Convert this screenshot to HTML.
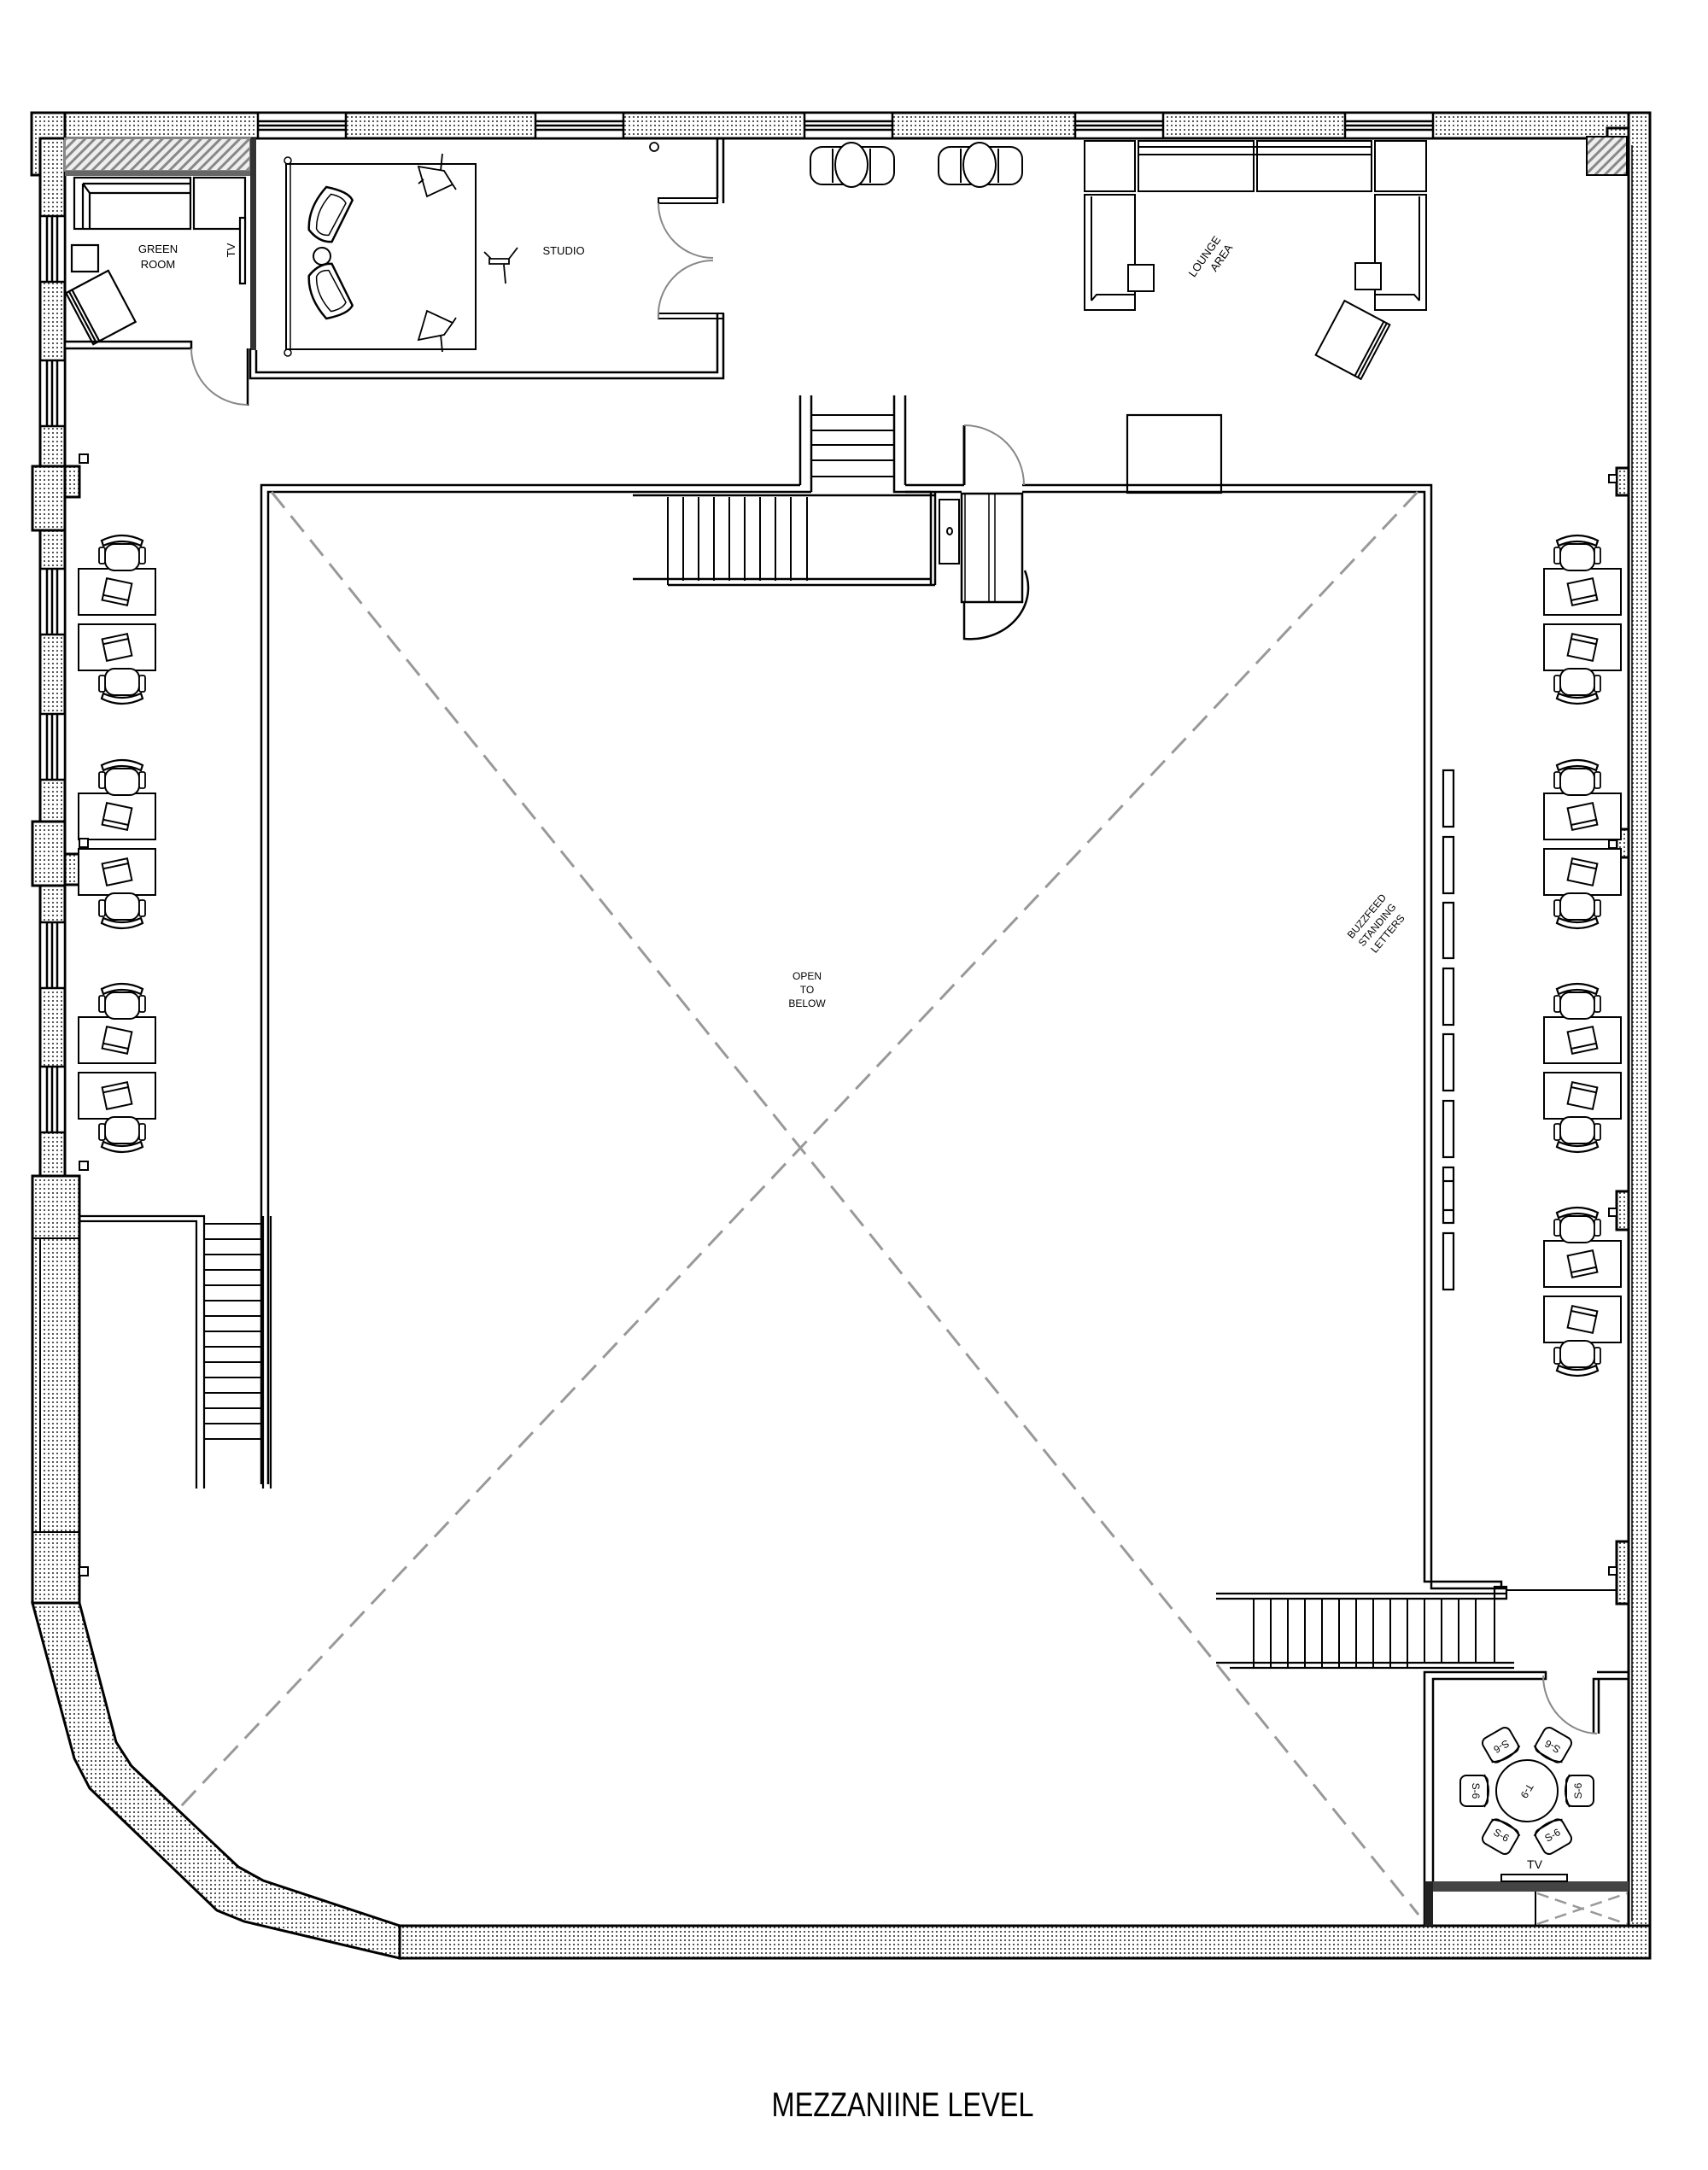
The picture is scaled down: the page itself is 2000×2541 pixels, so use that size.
<!DOCTYPE html>
<html><head><meta charset="utf-8"><style>
html,body{margin:0;padding:0;background:#fff;}
svg{display:block;}
text{font-family:"Liberation Sans Narrow","Liberation Sans",sans-serif;fill:#000;}
</style></head><body>
<svg width="2000" height="2541" viewBox="0 0 2000 2541" xmlns="http://www.w3.org/2000/svg">
<defs>
<pattern id="dots" width="5" height="5" patternUnits="userSpaceOnUse">
<rect width="5" height="5" fill="#fff"/><rect x="1" y="1" width="2" height="2" fill="#555"/></pattern>
<pattern id="hatch" width="8" height="8" patternUnits="userSpaceOnUse" patternTransform="rotate(45)">
<rect width="8" height="8" fill="#eee"/><rect width="3" height="8" fill="#888"/></pattern>
<symbol id="chair" viewBox="-30 -30 60 60" width="60" height="60" overflow="visible">
<path d="M-24,-17 Q0,-29 24,-17 L22,-11 Q0,-21 -22,-11 Z" fill="#fff" stroke="#000" stroke-width="2.2"/>
<rect x="-20" y="-13" width="40" height="31" rx="11" fill="#fff" stroke="#000" stroke-width="2"/>
<rect x="-27" y="-9" width="7" height="19" rx="2" fill="#fff" stroke="#000" stroke-width="1.8"/>
<rect x="20" y="-9" width="7" height="19" rx="2" fill="#fff" stroke="#000" stroke-width="1.8"/>
</symbol>
<g id="cluster" fill="none" stroke="#000" stroke-width="2">
<rect x="0" y="0" width="90" height="54" fill="#fff"/>
<rect x="0" y="65" width="90" height="54" fill="#fff"/>
<g transform="translate(45,27) rotate(12)"><rect x="-15" y="-13" width="30" height="26"/><line x1="-15" y1="7" x2="15" y2="7"/></g>
<g transform="translate(45,92) rotate(-12)"><rect x="-15" y="-13" width="30" height="26"/><line x1="-15" y1="-7" x2="15" y2="-7"/></g>
<use href="#chair" x="21" y="-46"/>
<g transform="translate(51,135) scale(1,-1)"><use href="#chair" x="-30" y="-30"/></g>
</g>
<g id="dc"><g transform="translate(0,-60)"><rect x="-18" y="-18" width="36" height="32" rx="7" fill="#fff" stroke="#000" stroke-width="2"/><path d="M-19,10 Q0,20 19,10" fill="none" stroke="#000" stroke-width="2"/><text x="0" y="4" font-size="12" text-anchor="middle" transform="rotate(180)">S-6</text></g></g>
</defs>

<!-- ===== WALLS ===== -->
<g stroke="#000" stroke-width="3" fill="url(#dots)">
<rect x="37" y="132" width="1895" height="30"/>
<rect x="1907" y="132" width="25" height="2161"/>
<rect x="468" y="2255" width="1464" height="38"/>
<rect x="37" y="132" width="39" height="73"/>
<rect x="47" y="162" width="29" height="1215"/>
<rect x="38" y="546" width="38" height="75"/><rect x="76" y="546" width="17" height="36"/>
<rect x="38" y="962" width="38" height="75"/><rect x="76" y="1000" width="17" height="36"/>
<rect x="38" y="1377" width="55" height="500"/>
<polygon points="38,1877 87,2059 105,2094 254,2237 286,2250 468,2293 468,2255 308,2202 279,2186 154,2068 136,2040 93,1877"/>
<rect x="1893" y="548" width="14" height="32"/>
<rect x="1893" y="971" width="14" height="33"/>
<rect x="1893" y="1395" width="14" height="45"/>
<rect x="1893" y="1805" width="14" height="73"/>
<rect x="1882" y="150" width="25" height="20"/>
</g>
<line x1="47" y1="1450" x2="47" y2="1794" stroke="#000" stroke-width="2"/>
<line x1="38" y1="1450" x2="93" y2="1450" stroke="#000" stroke-width="2"/>
<line x1="38" y1="1794" x2="93" y2="1794" stroke="#000" stroke-width="2"/>
<line x1="1911" y1="170" x2="1911" y2="2250" stroke="#000" stroke-width="1.5"/>

<g stroke="#000" stroke-width="2.5" fill="#fff">
<g id="tw"><rect x="302" y="132" width="103" height="30"/><line x1="302" y1="142" x2="405" y2="142"/><line x1="302" y1="147" x2="405" y2="147"/><line x1="302" y1="152" x2="405" y2="152"/></g>
<use href="#tw" x="325"/><use href="#tw" x="640"/><use href="#tw" x="957"/><use href="#tw" x="1273"/>
</g>
<g stroke="#000" stroke-width="2.5" fill="#fff">
<g id="lw"><rect x="47" y="253" width="29" height="77"/><line x1="55" y1="253" x2="55" y2="330"/><line x1="61" y1="253" x2="61" y2="330"/><line x1="67" y1="253" x2="67" y2="330"/></g>
<use href="#lw" y="169"/><use href="#lw" y="413"/><use href="#lw" y="583"/><use href="#lw" y="827"/><use href="#lw" y="996"/>
</g>

<!-- ===== GREEN ROOM ===== -->
<rect x="76" y="162" width="217" height="38" fill="url(#hatch)" stroke="#888" stroke-width="2"/>
<rect x="76" y="200" width="222" height="6" fill="#666"/>
<rect x="293" y="162" width="7" height="248" fill="#333"/>
<rect x="76" y="400" width="148" height="8" fill="#fff" stroke="#000" stroke-width="2.5"/>
<g fill="none" stroke="#000" stroke-width="2.2">
<rect x="87" y="208" width="136" height="60"/>
<path d="M97,215 L223,215 M97,215 L97,268 M97,215 L105,226 L223,226 M105,226 L105,268"/>
<rect x="227" y="208" width="60" height="60"/>
<rect x="281" y="255" width="6" height="77" fill="#fff"/>
<rect x="84" y="287" width="31" height="31"/>
<g transform="translate(118,360) rotate(-28)"><rect x="-28" y="-34" width="56" height="68"/><line x1="-20" y1="-34" x2="-20" y2="34"/><line x1="-24" y1="-34" x2="-24" y2="34"/></g>
<line x1="290" y1="408" x2="290" y2="475" stroke-width="2.5"/>
</g>
<path d="M224,408 A66,66 0 0 0 290,474" fill="none" stroke="#888" stroke-width="2"/>
<text x="185" y="296" font-size="13" text-anchor="middle">GREEN</text>
<text x="185" y="314" font-size="13" text-anchor="middle">ROOM</text>
<text x="275" y="293" font-size="13" text-anchor="middle" transform="rotate(-90 275 293)">TV</text>

<!-- ===== STUDIO ===== -->
<g fill="none" stroke="#000" stroke-width="2.5">
<path d="M293,408 L293,443 L847,443 L847,367 M300,410 L300,436 L840,436 L840,367"/>
<path d="M847,162 L847,238 M840,162 L840,232"/>
<path d="M771,232 L840,232 L840,238 L771,238 Z M771,367 L847,367 L847,373 L771,373 Z" stroke-width="2"/>
<rect x="335" y="192" width="222" height="217" stroke-width="2"/>
<line x1="340" y1="192" x2="340" y2="409" stroke-width="1.5"/>
<circle cx="337" cy="188" r="4" stroke-width="1.5"/><circle cx="337" cy="413" r="4" stroke-width="1.5"/>
<circle cx="377" cy="300" r="10" stroke-width="2"/>
<g transform="translate(385,252) rotate(20)"><path d="M-14,-30 Q12,-34 20,-26 L14,28 Q0,34 -16,24 Q-26,0 -14,-30 Z"/><path d="M-6,-24 Q8,-26 14,-20 L8,22 Q-2,26 -8,20 Q-16,0 -6,-24 Z" stroke-width="1.5"/></g>
<g transform="translate(385,340) rotate(-20) scale(1,-1)"><path d="M-14,-30 Q12,-34 20,-26 L14,28 Q0,34 -16,24 Q-26,0 -14,-30 Z"/><path d="M-6,-24 Q8,-26 14,-20 L8,22 Q-2,26 -8,20 Q-16,0 -6,-24 Z" stroke-width="1.5"/></g>
<g stroke-width="1.8">
<path d="M490,195 L520,200 L530,216 L500,230 Z M518,180 L516,200 M530,216 L534,222 M490,215 L496,210"/>
<path d="M490,398 L520,392 L530,378 L500,364 Z M518,412 L516,392 M534,372 L530,378"/>
<path d="M573,303 L596,303 L596,309 L573,309 Z M567,295 L575,303 M606,290 L596,303 M590,310 L592,332"/>
</g>
<circle cx="766" cy="172" r="5" stroke-width="1.8"/>
</g>
<path d="M771,238 A64,64 0 0 0 835,302 M771,373 A64,64 0 0 1 835,305" fill="none" stroke="#888" stroke-width="2"/>
<text x="660" y="298" font-size="13" text-anchor="middle">STUDIO</text>

<!-- ===== LOUNGE ===== -->
<g fill="#fff" stroke="#000" stroke-width="2">
<g id="rc"><rect x="949" y="172" width="98" height="44" rx="14"/><ellipse cx="997" cy="193" rx="19" ry="26"/><line x1="975" y1="174" x2="975" y2="214"/><line x1="1019" y1="174" x2="1019" y2="214"/></g>
<use href="#rc" x="150"/>
<rect x="1270" y="165" width="59" height="59"/><rect x="1333" y="165" width="135" height="59"/><rect x="1472" y="165" width="134" height="59"/><rect x="1610" y="165" width="60" height="59"/>
<line x1="1333" y1="172" x2="1606" y2="172"/><line x1="1333" y1="181" x2="1606" y2="181"/>
<rect x="1270" y="228" width="59" height="135"/><line x1="1278" y1="230" x2="1278" y2="352"/><path d="M1278,352 L1284,345 L1329,345" fill="none"/>
<rect x="1610" y="228" width="60" height="135"/><line x1="1662" y1="230" x2="1662" y2="352"/><path d="M1662,352 L1656,345 L1610,345" fill="none"/>
<rect x="1321" y="310" width="30" height="31"/><rect x="1587" y="308" width="30" height="31"/>
<g transform="translate(1584,398) rotate(28)"><rect x="-30" y="-36" width="60" height="72"/><line x1="22" y1="-36" x2="22" y2="36"/><line x1="26" y1="-36" x2="26" y2="36"/></g>
</g>
<rect x="1858" y="160" width="47" height="45" fill="url(#hatch)" stroke="#000" stroke-width="2"/>
<text x="1410" y="305" font-size="13" text-anchor="middle" transform="rotate(-55 1410 300)">LOUNGE</text>
<text x="1420" y="322" font-size="13" text-anchor="middle" transform="rotate(-55 1410 300)">AREA</text>

<!-- ===== OPEN TO BELOW ===== -->
<g fill="none" stroke="#000" stroke-width="2.5">
<path d="M306,1738 L306,568 L937,568 M314,1738 L314,576 L950,576"/>
<path d="M1060,568 L1129,568 M1060,576 L1126,576"/>
<path d="M1197,568 L1676,568 L1676,1860 L1765,1860 M1197,576 L1668,576 L1668,1852 L1758,1852 L1758,1860"/>
<rect x="1320" y="486" width="110" height="91" stroke-width="2.2"/>
</g>
<g stroke="#999" stroke-width="3" stroke-dasharray="24 12" fill="none">
<line x1="318" y1="576" x2="1661" y2="2242"/>
<line x1="1660" y1="576" x2="212" y2="2115"/>
</g>
<text x="945" y="1147" font-size="12" text-anchor="middle">OPEN</text>
<text x="945" y="1163" font-size="12" text-anchor="middle">TO</text>
<text x="945" y="1179" font-size="12" text-anchor="middle">BELOW</text>

<g fill="none" stroke="#000" stroke-width="2.5">
<path d="M937,463 L937,568 M950,463 L950,576 M1047,463 L1047,576 L1090,576 M1060,463 L1060,568"/>
<path d="M950,486 L1047,486 M950,504 L1047,504 M950,521 L1047,521 M950,539 L1047,539 M950,558 L1047,558" stroke-width="2"/>
<path d="M741,580 L1095,580 M741,678 L1090,678 M782,685 L1095,685 M1090,576 L1090,685 M1095,576 L1095,685"/>
<path d="M782,582 L782,685 M800,582 L800,680 M818,582 L818,680 M836,582 L836,680 M854,582 L854,680 M872,582 L872,680 M890,582 L890,680 M908,582 L908,680 M926,582 L926,680 M945,582 L945,680" stroke-width="2"/>
<rect x="1126" y="578" width="71" height="127"/>
<path d="M1158,578 L1158,705 M1165,578 L1165,705 M1130,578 L1130,705" stroke-width="1.5"/>
<rect x="1100" y="585" width="23" height="75" stroke-width="2"/>
<ellipse cx="1112" cy="622" rx="3" ry="4" stroke-width="2"/>
<path d="M1129,705 L1129,748 A68,60 0 0 0 1200,668" stroke-width="2.5"/>
<path d="M1129,498 L1129,568" stroke-width="3"/>
</g>
<path d="M1129,498 A70,70 0 0 1 1199,568" fill="none" stroke="#888" stroke-width="2"/>

<g fill="none" stroke="#000" stroke-width="2.2">
<path d="M93,1424 L239,1424 L239,1743 M93,1430 L230,1430 L230,1743 M308,1424 L308,1743 M317,1424 L317,1743"/>
<path d="M239,1433 L308,1433 M239,1451 L308,1451 M239,1469 L308,1469 M239,1487 L308,1487 M239,1505 L308,1505 M239,1523 L308,1523 M239,1541 L308,1541 M239,1559 L308,1559 M239,1577 L308,1577 M239,1595 L308,1595 M239,1613 L308,1613 M239,1631 L308,1631 M239,1649 L308,1649 M239,1667 L308,1667 M239,1685 L308,1685" stroke-width="2"/>
</g>

<g fill="none" stroke="#000" stroke-width="2.2">
<path d="M1424,1866 L1765,1866 M1424,1872 L1765,1872 M1424,1947 L1773,1947 M1440,1953 L1773,1953"/>
<path d="M1468,1872 L1468,1953 M1488,1872 L1488,1953 M1508,1872 L1508,1953 M1528,1872 L1528,1953 M1548,1872 L1548,1953 M1568,1872 L1568,1953 M1588,1872 L1588,1953 M1608,1872 L1608,1953 M1628,1872 L1628,1953 M1648,1872 L1648,1953 M1668,1872 L1668,1947 M1688,1872 L1688,1947 M1708,1872 L1708,1947 M1728,1872 L1728,1947 M1750,1872 L1750,1947" stroke-width="2"/>
<rect x="1750" y="1858" width="14" height="14"/>
<line x1="1765" y1="1862" x2="1893" y2="1862" stroke-width="2"/>
</g>

<g fill="none" stroke="#000" stroke-width="2.5">
<path d="M1668,2255 L1668,1958 L1810,1958 L1810,1966 L1678,1966 L1678,2205"/>
<path d="M1872,2030 L1872,1966 L1907,1966 M1870,1958 L1907,1958 M1872,1966 L1866,1966 L1866,2030"/>
<line x1="1798" y1="2215" x2="1798" y2="2255" stroke-width="2"/>
</g>
<path d="M1807,1962 A65,68 0 0 0 1870,2030" fill="none" stroke="#888" stroke-width="2"/>
<rect x="1668" y="2203" width="239" height="12" fill="#444"/>
<rect x="1668" y="2203" width="10" height="52" fill="#222"/>
<rect x="1758" y="2195" width="77" height="8" fill="#fff" stroke="#000" stroke-width="2"/>
<text x="1797" y="2188" font-size="14" text-anchor="middle">TV</text>
<g stroke="#999" stroke-width="2.5" stroke-dasharray="14 8"><line x1="1800" y1="2217" x2="1905" y2="2253"/><line x1="1800" y1="2253" x2="1905" y2="2217"/></g>
<g transform="translate(1788,2097)">
<use href="#dc" transform="rotate(-30)"/><use href="#dc" transform="rotate(30)"/>
<use href="#dc" transform="rotate(90)"/><use href="#dc" transform="rotate(150)"/><use href="#dc" transform="rotate(210)"/><use href="#dc" transform="rotate(270)"/>
<circle cx="0" cy="0" r="36" fill="#fff" stroke="#000" stroke-width="2"/>
<text x="0" y="4" font-size="12" text-anchor="middle" transform="rotate(120)">T-9</text>
</g>

<g fill="#fff" stroke="#000" stroke-width="2.2">
<rect x="1690" y="902" width="12" height="66"/><rect x="1690" y="980" width="12" height="66"/>
<rect x="1690" y="1057" width="12" height="65"/><rect x="1690" y="1134" width="12" height="66"/>
<rect x="1690" y="1211" width="12" height="66"/><rect x="1690" y="1289" width="12" height="66"/>
<rect x="1690" y="1367" width="12" height="65"/><line x1="1690" y1="1383" x2="1702" y2="1383"/><line x1="1690" y1="1417" x2="1702" y2="1417"/>
<rect x="1690" y="1444" width="12" height="66"/>
</g>
<g transform="rotate(-50 1615 1085)" font-size="12" text-anchor="middle">
<text x="1615" y="1070">BUZZFEED</text><text x="1615" y="1086">STANDING</text><text x="1615" y="1102">LETTERS</text>
</g>

<use href="#cluster" x="92" y="666"/>
<use href="#cluster" x="92" y="929"/>
<use href="#cluster" x="92" y="1191"/>
<use href="#cluster" transform="translate(1898,666) scale(-1,1)"/>
<use href="#cluster" transform="translate(1898,929) scale(-1,1)"/>
<use href="#cluster" transform="translate(1898,1191) scale(-1,1)"/>
<use href="#cluster" transform="translate(1898,1453) scale(-1,1)"/>

<g fill="#fff" stroke="#000" stroke-width="2">
<rect x="93" y="532" width="10" height="10"/><rect x="93" y="982" width="10" height="10"/>
<rect x="93" y="1360" width="10" height="10"/><rect x="93" y="1835" width="10" height="10"/>
<rect x="1884" y="984" width="9" height="9"/><rect x="1884" y="1415" width="9" height="9"/>
<rect x="1884" y="1835" width="9" height="9"/><rect x="1884" y="556" width="9" height="9"/>
</g>

<text x="1057" y="2478" font-size="40" text-anchor="middle" textLength="307" lengthAdjust="spacingAndGlyphs">MEZZANIINE LEVEL</text>
</svg>
</body></html>
